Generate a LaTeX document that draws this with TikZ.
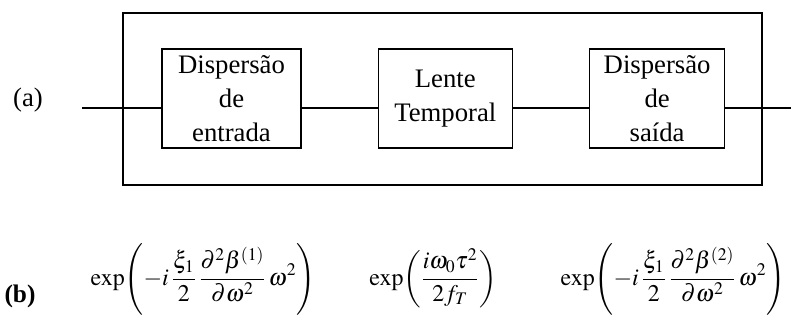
\documentclass[tikz,border=0pt]{standalone}
\usepackage{mathptmx}
\usepackage{fontspec}
\setmainfont{Liberation Serif}
\usetikzlibrary{positioning}

\begin{document}
\begin{tikzpicture}[x=0.025cm, y=-0.025cm, line width=0.9pt,
    block/.style={draw, align=center, inner sep=0pt, minimum height=2.475cm, font=\fontsize{19}{24}\selectfont},
    formula/.style={anchor=base, font=\fontsize{17}{20}\selectfont}]
    \useasboundingbox (0,0) rectangle (791,322);

    % Outer box
    \draw (123,13) rectangle (762,185);

    % Blocks
    \node[block, minimum width=3.475cm] (dispIn) at (231.5,98.5) {Dispersão\\de\\entrada};
    \node[block, minimum width=3.35cm, right=1.9cm of dispIn] (lens) {Lente\\Temporal};
    \node[block, minimum width=3.375cm, right=1.9cm of lens] (dispOut) {Dispersão\\de\\saída};

    % Input and output
    \coordinate (in) at (82,108);
    \coordinate (out) at (791,108);

    % Lines
    \draw (in) -- (in -| dispIn.west);
    \draw (dispIn.east |- in) -- (in -| lens.west);
    \draw (lens.east |- in) -- (in -| dispOut.west);
    \draw (dispOut.east |- in) -- (out);

    % Labels
    \node[font=\fontsize{19}{24}\selectfont] (labA) at (28,100) {(a)};
    \node[font=\fontsize{18}{22}\selectfont, anchor=base] (labB) at (20,302) {\textbf{(b)}};

    % Transfer functions
    \node[formula] (hIn) at (203,285) {$\displaystyle\exp\!\left(-i\,\frac{\xi_1}{2}\,\frac{\partial^2\beta^{(1)}}{\partial\omega^2}\,\omega^2\right)$};
    \node[formula] (hLens) at (433,285) {$\displaystyle\exp\!\left(\frac{i\omega_0\tau^2}{2f_T}\right)$};
    \node[formula] (hOut) at (673,285) {$\displaystyle\exp\!\left(-i\,\frac{\xi_1}{2}\,\frac{\partial^2\beta^{(2)}}{\partial\omega^2}\,\omega^2\right)$};
\end{tikzpicture}
\end{document}
